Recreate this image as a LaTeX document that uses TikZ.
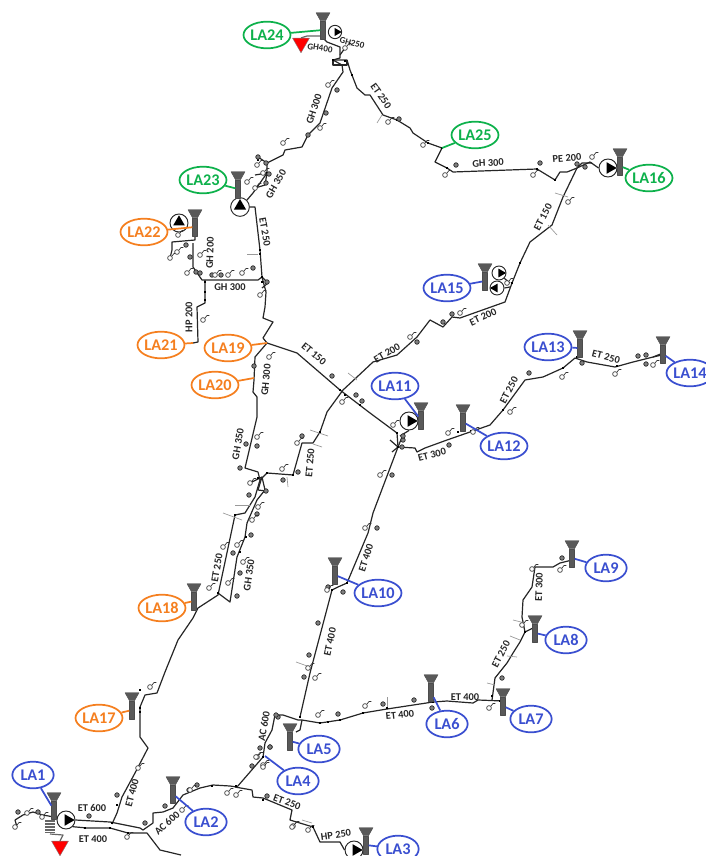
\documentclass[tikz,border=0pt]{standalone}
\usepackage{fontspec}
\setmainfont{Carlito}
\usepackage{xcolor}
\usetikzlibrary{shapes.geometric}
\definecolor{lablue}{HTML}{3A4FD0}
\definecolor{laorange}{HTML}{F57F1F}
\definecolor{lagreen}{HTML}{0DB14B}
\begin{document}
\begin{tikzpicture}[x=0.75pt, y=-0.75pt, line join=round,
	pipe/.style={draw=black!85, line width=0.9pt},
	feed/.style={draw=black!60, line width=0.9pt},
	tick/.style={draw=black!40, line width=0.5pt},
	gauge/.style={circle, draw=black!85, fill=black!50, inner sep=0pt, minimum size=3.4pt, line width=0.5pt},
	hydrant/.style={circle, draw=black!80, fill=white, inner sep=0pt, minimum size=3.6pt, line width=0.5pt},
	valve/.style={rectangle, fill=black, inner sep=0pt, minimum width=1.9pt, minimum height=1.9pt},
	shaft/.style={rectangle, draw=black!70, fill=black!65, inner sep=0pt, minimum width=3.6pt, minimum height=13.5pt},
	head/.style={fill=black!65, draw=black!70, line width=0.3pt},
	pump/.style={circle, draw=black!85, fill=white, inner sep=0pt, line width=0.7pt},
	blade/.style={regular polygon, regular polygon sides=3, fill=black, inner sep=0pt},
	sink/.style={regular polygon, regular polygon sides=3, shape border rotate=180, draw=black!50, fill=red, inner sep=0pt, minimum size=14.7pt, line width=0.3pt},
	tag/.style={ellipse, draw=#1, text=#1, fill=white, line width=1.3pt, inner sep=0pt, minimum width=31pt, minimum height=20pt, font=\fontsize{12.2}{14}\selectfont\bfseries},
	leader/.style={draw=#1, line width=1.3pt},
	pipetext/.style={inner sep=0pt, text=black!85, font=\fontsize{7.8}{9}\selectfont\bfseries},
	smalltext/.style={inner sep=0pt, text=black!85, font=\fontsize{6.8}{8}\selectfont\bfseries}]
	\useasboundingbox (0,0) rectangle (706,856);
	\node[sink] (SA) at (60,846) {};
	\node[sink] (SB) at (301,43) {};
	\foreach \n/\x/\y/\s in {A/66/820/13.5, B/354/850/13.5, C/409/421/13.5, D/499/273/10.5, E/497/288/10.5, F/608/168/13.5, G/179/223/13.5, H/240/207/14, I/335/32/10}
	{
		\node[pump, minimum size=\s pt] (P\n) at (\x,\y) {};
	}
	\draw[pipe] (PA.east) -- (110,822) -- (140,828) -- (143,830) -- (153,823) -- (153,813) -- (163,812) -- (173,808) -- (183,795) -- (200,788) -- (213,785) -- (230,786) -- (237,787) -- (250,772) -- (263,757) -- (265,743) -- (272,730) -- (275,715) -- (283,715) -- (298,720) -- (302,720) -- (320,723) -- (340,720) -- (363,713) -- (387,709) -- (433,702) -- (447,701) -- (473,703) -- (478,700) -- (503,701);
	\draw[pipe] (PA.south east) -- (87,828) -- (110,828) -- (128,833) -- (147,833) -- (160,850) -- (181,855);
	\draw[pipe] (112,824) -- (117,813) -- (122,797) -- (135,773) -- (148,748) -- (140,737) -- (140,707) -- (145,695) -- (157,693) -- (165,672) -- (178,640) -- (193,618) -- (198,608) -- (218,595) -- (235,515) -- (245,513) -- (255,497) -- (260,480) -- (258,472) -- (245,468) -- (257,417) -- (257,397) -- (253,392) -- (254,380) -- (255,357) -- (267,343) -- (263,338) -- (273,322) -- (263,318) -- (265,307) -- (266,292) -- (262,277) -- (260,250) -- (255,207) -- (PH.east);
	\draw[pipe] (218,593) -- (230,602) -- (237,557) -- (245,537) -- (247,523) -- (257,500) -- (265,490) -- (262,477);
	\draw[pipe] (PH.north east) -- (253,193) -- (267,173) -- (267,163) -- (283,155) -- (285,150) -- (302,147) -- (308,135) -- (320,123) -- (332,88) -- (343,72) -- (342,65) -- (333,60) -- (340,58) -- (340,47) -- (327,42) -- (323,38);
	\draw[pipe] (333,60) -- (347,60) -- (350,70) -- (357,88) -- (365,95) -- (370,95) -- (383,115) -- (397,120) -- (410,128) -- (413,133) -- (428,143) -- (442,148) -- (435,162) -- (447,168) -- (453,172) -- (537,169) -- (555,180) -- (560,172) -- (567,172) -- (577,168) -- (590,162) -- (PF.west);
	\draw[pipe] (577,168) -- (563,197) -- (552,225) -- (530,242) -- (520,263) -- (512,283) -- (505,302) -- (460,318) -- (452,317) -- (443,327) -- (430,320) -- (417,337) -- (397,355) -- (373,362) -- (357,377) -- (343,390) -- (327,412) -- (320,432) -- (313,443) -- (302,443) -- (293,475) -- (267,473) -- (260,480);
	\draw[pipe] (267,343) -- (297,353) -- (340,390) -- (370,413) -- (397,433) -- (398,447) -- (415,448) -- (417,452) -- (425,448) -- (447,440) -- (470,432) -- (490,425) -- (503,410) -- (525,380) -- (543,377) -- (563,368) -- (575,358) -- (587,362) -- (615,367) -- (633,362) -- (653,357) -- (662,355);
	\draw[pipe] (398,447) -- (373,513) -- (368,533) -- (347,583) -- (338,587) -- (332,590) -- (310,673) -- (300,717);
	\draw[pipe] (302,720) -- (300,730) -- (296,732);
	\draw[pipe] (492,700) -- (495,678) -- (507,663) -- (513,653) -- (520,642) -- (525,632) -- (535,627);
	\draw[pipe] (525,632) -- (522,617) -- (523,600) -- (532,587) -- (535,567) -- (553,567) -- (560,563) -- (572,560);
	\draw[pipe] (235,787) -- (252,790) -- (253,797) -- (263,798) -- (292,810) -- (290,820) -- (313,827) -- (320,842) -- (340,842) -- (PB.west);
	\draw[pipe] (195,233) -- (195,240) -- (172,242) -- (172,250) -- (170,258);
	\draw[pipe] (193,243) -- (193,267) -- (202,280) -- (258,280) -- (262,277);
	\draw[pipe] (205,280) -- (205,303) -- (197,307) -- (198,342) -- (193,343);
	\draw[pipe] (15,820) -- (23,815) -- (33,812) -- (43,815) -- (54,817);
	\draw[pipe] (15,820) -- (17,827);
	\draw[pipe] (PD.south east) -- (510,283);
	\draw[pipe] (PE.east) -- (510,287);
	\draw[pipe] (PC.south) -- (400,436);
	\draw[pipe] (663,363) -- (663,353) -- (653,357);
	\draw[pipe] (258,157) -- (267,163);
	\draw[pipe] (255,175) -- (267,173) -- (265,185) -- (255,188);
	\draw[pipe] (250,483) -- (262,477) -- (258,490) -- (266,491);
	\draw[pipe] (345,48) -- (340,55);
	\draw[pipe] (333,60) -- (333,65) -- (347,65) -- (347,60);
	\draw[pipe] (577,168) -- (582,163) -- (592,163);
	\draw[pipe] (262,277) -- (268,283) -- (262,288);
	\draw[pipe] (390,440) -- (398,447) -- (402,437);
	\draw[pipe] (392,452) -- (398,447);
	\draw[feed] (50,834) -- (63,835) -- (SA.north);
	\draw[feed] (323,36) -- (307,36) -- (SB.north);
	\fill[black!60] (45,820) rectangle (55,833);
	\foreach \y in {822,825,828,831}
	{
		\draw[white, line width=0.3pt] (45,\y) -- (55,\y);
	}
	\foreach \a/\b/\c/\d [count=\i] in {377/123/382/115, 247/254/258/254, 555/193/568/197, 548/225/557/235, 348/373/357/380, 310/430/328/436, 313/444/322/447, 287/477/288/487, 235/505/250/505, 223/513/242/520, 296/662/310/667, 387/697/387/708, 487/683/495/685, 510/636/520/640, 507/656/517/657, 513/620/525/623, 302/820/312/823, 181/342/181/350}
	{
		\coordinate (Ta\i) at (\a,\b);
		\coordinate (Tb\i) at (\c,\d);
		\path[tick] (Ta\i) edge (Tb\i);
	}
	\foreach \x/\y [count=\i] in {117/805, 140/690, 140/708, 140/712, 112/823, 85/828, 110/828, 128/833, 212/786, 236/786, 263/757, 263/800, 313/827, 300/717, 320/723, 328/722, 340/720, 363/713, 387/708, 433/702, 500/701, 492/696, 525/632, 572/560, 260/250, 260/254, 262/277, 262/282, 205/282, 205/292, 205/300, 267/173, 258/160, 333/60, 345/61, 352/75, 397/120, 428/143, 442/148, 447/168, 537/169, 555/180, 512/283, 520/263, 340/390, 345/395, 360/405, 397/433, 398/447, 320/432, 293/475, 267/473, 258/478, 246/537, 240/552, 218/593, 235/515, 257/437, 471/431, 458/432, 503/410, 563/368, 577/357, 617/366, 332/590, 347/583, 304/677}
	{
		\node[valve] (V\i) at (\x,\y) {};
	}
	\foreach \x/\y [count=\i] in {89/816, 117/795, 145/823, 165/806, 189/790, 197/785, 267/796, 38/812, 18/812, 270/747, 260/748, 252/766, 278/717, 337/90, 326/113, 308/135, 399/119, 258/157, 266/163, 269/174, 266/183, 190/257, 186/245, 196/272, 200/273, 212/275, 221/275, 253/268, 267/282, 456/165, 540/163, 577/164, 585/167, 452/314, 443/322, 417/342, 529/373, 582/363, 638/356, 646/355, 646/364, 449/445, 403/440, 254/366, 246/444, 257/446, 240/468, 302/436, 298/472, 283/480, 332/376, 356/395, 362/401, 403/436, 392/475, 377/528, 343/592, 328/587, 402/447, 249/495, 266/491, 257/514, 251/535, 233/553, 240/573, 237/596, 318/623, 309/655, 304/677, 276/715, 338/714, 383/704, 414/700, 432/708, 502/678, 562/558, 270/747}
	{
		\node[gauge] (G\i) at (\x,\y) {};
	}
	\foreach \x/\y [count=\i] in {15/827, 27/813, 42/817, 150/687, 138/768, 127/837, 182/810, 190/790, 227/793, 236/795, 263/765, 257/757, 293/826, 345/48, 328/85, 320/128, 283/143, 257/165, 263/173, 247/182, 255/188, 388/122, 170/258, 177/252, 178/235, 200/255, 187/273, 215/275, 228/275, 242/273, 260/295, 423/145, 445/175, 533/175, 592/157, 568/202, 507/283, 460/313, 410/337, 562/377, 510/412, 448/433, 473/432, 615/374, 653/365, 269/357, 257/437, 297/443, 282/469, 250/483, 258/507, 252/520, 223/547, 237/545, 243/562, 228/583, 209/588, 342/402, 393/425, 380/475, 365/528, 203/320, 327/590, 308/668, 315/678, 318/715, 365/706, 256/757, 263/767, 489/708, 522/625, 532/569, 560/570, 308/830, 292/827}
	{
		\node[hydrant] (H\i) at (\x,\y) {};
		\draw[black!80, line width=0.5pt] (H\i.north east) -- ++(2,-2.5) -- ++(2.5,0);
	}
	\foreach \n/\x/\y in {1/54/810, 2/173/794, 3/366/845, 5/290/741, 6/431/692, 7/503/706, 8/535/633, 9/572/558, 10/335/575, 11/421/420, 12/463/422, 13/580/348, 14/663/354, 15/485/281, 16/620/166, 17/132/710, 18/194/601, 22/195/227, 23/238/189, 24/323/30}
	{
		\node[shaft] (T\n) at (\x,\y) {};
		\fill[head] (T\n.north) ++(-7,-8) -- ++(14,0) -- ++(-4.5,8) -- ++(-5,0) -- cycle;
	}
	\foreach \n/\x/\y/\s/\r in {A/68/820/10/-90, B/356/850/10/-90, C/411/421/10/-90, D/501/273/7.6/-90, E/495/288/7.6/90, F/610/168/10/-90, G/179/222/10/0, H/240/206/10.5/0, I/337/32/7/-90}
	{
		\node[blade, minimum size=\s pt, shape border rotate=\r] (B\n) at (\x,\y) {};
	}
	\coordinate (J4) at (265,756);
	\coordinate (J19) at (267,343);
	\coordinate (J20) at (254,378);
	\coordinate (J21) at (193,343);
	\coordinate (J25) at (442,148);
	\foreach \n/\x/\y in {1/33/775, 2/206/822, 3/398/849, 4/298/781, 5/319/749, 6/447/724, 7/531/719, 8/566/640, 9/606/568, 10/378/593, 11/395/386, 12/504/446, 13/548/347, 14/690/373, 15/447/288}
	{
		\node[tag=lablue] (LA\n) at (\x,\y) {LA\n};
	}
	\foreach \n/\x/\y in {17/99/718, 18/162/608, 19/228/348, 20/215/385, 21/161/345, 22/144/232}
	{
		\node[tag=laorange] (LA\n) at (\x,\y) {LA\n};
	}
	\foreach \n/\x/\y in {16/649/178, 23/203/180, 24/267/35, 25/475/135}
	{
		\node[tag=lagreen] (LA\n) at (\x,\y) {LA\n};
	}
	\foreach \n in {1,2,3,5,6,7,8,9,10,11,12,13,14,15}
	{
		\path[leader=lablue] (LA\n) edge (T\n);
	}
	\foreach \n in {17,18,22}
	{
		\path[leader=laorange] (LA\n) edge (T\n);
	}
	\foreach \n in {16,23,24}
	{
		\path[leader=lagreen] (LA\n) edge (T\n);
	}
	\path[leader=lablue] (LA4) edge (J4);
	\path[leader=laorange] (LA19) edge (J19)
	(LA20) edge (J20)
	(LA21) edge (J21);
	\path[leader=lagreen] (LA25) edge (J25);
	\foreach \x/\y/\a/\t [count=\i] in {92/808/0/ET 600, 93/839/0/ET 400, 132/793/75/ET 400, 167/823/42/AC 600, 287/802/-20/ET 250, 336/835/8/HP 250, 264/726/80/AC 600, 330/642/78/ET 400, 400/715/6/ET 400, 465/697/0/ET 400, 501/654/62/ET 250, 539/587/88/ET 300, 366/558/72/ET 400, 217/568/80/ET 250, 249/575/82/GH 350, 310/463/85/ET 250, 238/444/80/GH 350, 266/380/85/GH 300, 314/354/-40/ET 150, 387/353/30/ET 200, 432/455/15/ET 300, 509/390/62/ET 250, 606/357/-15/ET 250, 483/317/25/ET 200, 543/217/62/ET 150, 488/163/3/GH 300, 567/158/5/PE 200, 381/96/-55/ET 250, 314/109/72/GH 300, 276/184/60/GH 350, 265/232/-80/ET 250, 210/253/88/GH 200, 230/287/0/GH 300, 189/317/90/HP 200}
	{
		\node[pipetext, rotate=\a] (N\i) at (\x,\y) {\t};
	}
	\node[smalltext, rotate=-15] (NA) at (352,43) {GH250};
	\node[smalltext, rotate=-8] (NB) at (320,48) {GH400};
\end{tikzpicture}
\end{document}
